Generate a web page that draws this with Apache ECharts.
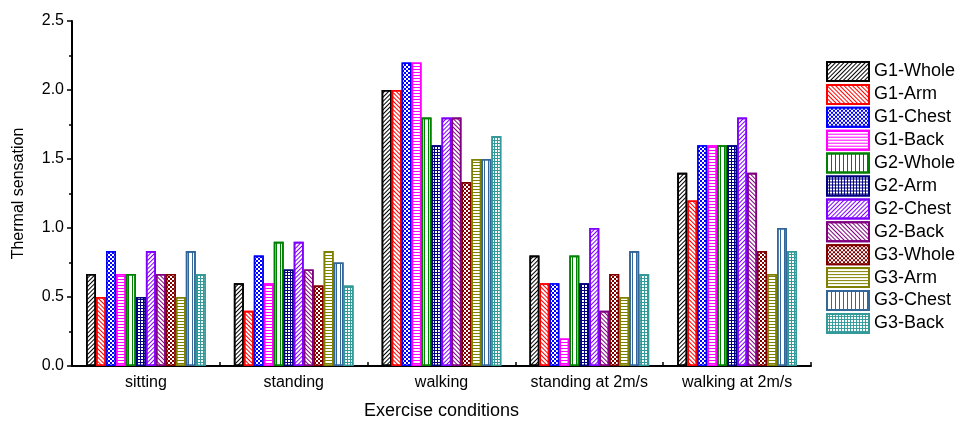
<!DOCTYPE html>
<html>
<head>
<meta charset="utf-8">
<script src="https://cdn.jsdelivr.net/npm/echarts@6/dist/echarts.min.js"></script>
<style>html,body{margin:0;padding:0;background:#fff}#c{width:959px;height:422px}</style>
</head>
<body>
<div id="c"></div>
<script>
const categories = ['sitting', 'standing', 'walking', 'standing at 2m/s', 'walking at 2m/s'];
const seriesNames = ['G1-Whole', 'G1-Arm', 'G1-Chest', 'G1-Back', 'G2-Whole', 'G2-Arm', 'G2-Chest', 'G2-Back', 'G3-Whole', 'G3-Arm', 'G3-Chest', 'G3-Back'];
const g1Whole = [0.667, 0.6, 2.0, 0.8, 1.4];
const g1Arm   = [0.5, 0.4, 2.0, 0.6, 1.2];
const g1Chest = [0.833, 0.8, 2.2, 0.6, 1.6];
const g1Back  = [0.667, 0.6, 2.2, 0.2, 1.6];
const g2Whole = [0.667, 0.9, 1.8, 0.8, 1.6];
const g2Arm   = [0.5, 0.7, 1.6, 0.6, 1.6];
const g2Chest = [0.833, 0.9, 1.8, 1.0, 1.8];
const g2Back  = [0.667, 0.7, 1.8, 0.4, 1.4];
const g3Whole = [0.667, 0.583, 1.333, 0.667, 0.833];
const g3Arm   = [0.5, 0.833, 1.5, 0.5, 0.667];
const g3Chest = [0.833, 0.75, 1.5, 0.833, 1.0];
const g3Back  = [0.667, 0.583, 1.667, 0.667, 0.833];
const yTicks = [0, 0.5, 1.0, 1.5, 2.0, 2.5];

const allData = [g1Whole, g1Arm, g1Chest, g1Back, g2Whole, g2Arm, g2Chest, g2Back, g3Whole, g3Arm, g3Chest, g3Back];
const colors = ['#000000', '#FF0000', '#0000FF', '#FF00FF', '#008000', '#000080', '#8000FF', '#800080', '#800000', '#808000', '#336699', '#339999'];
const patterns = ['diagR', 'diagL', 'checker', 'horiz', 'vert', 'grid', 'diagR', 'diagL', 'checker', 'horiz', 'vert', 'grid'];

function styleFor(p, c) {
  const base = {borderColor: c, borderWidth: 1.6};
  if (p === 'diagR' || p === 'diagL') {
    return Object.assign(base, {color: '#fff', decal: {symbol: 'rect', color: c, dashArrayX: [1, 0], dashArrayY: [1, 2], rotation: p === 'diagR' ? -Math.PI / 4 : Math.PI / 4}});
  }
  if (p === 'horiz') {
    return Object.assign(base, {color: '#fff', decal: {symbol: 'rect', color: c, dashArrayX: [1, 0], dashArrayY: [1, 2]}});
  }
  if (p === 'vert') {
    return Object.assign(base, {color: '#fff', decal: {symbol: 'rect', color: c, dashArrayX: [1, 3], dashArrayY: [1, 0]}});
  }
  if (p === 'grid') {
    return Object.assign(base, {color: c, decal: {symbol: 'rect', color: '#fff', dashArrayX: [2, 1], dashArrayY: [2, 1]}});
  }
  return Object.assign(base, {color: c, decal: {symbol: 'rect', color: '#fff', dashArrayX: [[2, 2], [0, 2, 2, 0]], dashArrayY: [2, 0]}});
}

const font = 'Liberation Sans, Arial, sans-serif';
const series = seriesNames.map((n, i) => ({
  name: n,
  type: 'bar',
  xAxisIndex: 0,
  data: allData[i],
  barGap: '0%',
  barCategoryGap: '19%',
  itemStyle: styleFor(patterns[i], colors[i]),
  emphasis: {disabled: true}
}));

const chart = echarts.init(document.getElementById('c'), null, {renderer: 'canvas'});
chart.setOption({
  animation: false,
  aria: {enabled: false},
  grid: {left: 72, right: 148, top: 21, bottom: 56, outerBoundsMode: 'none', containLabel: false},
  legend: {
    orient: 'vertical', left: 826, top: 61, padding: 0,
    itemWidth: 42, itemHeight: 19, itemGap: 1.9,
    icon: 'rect',
    textStyle: {fontFamily: font, fontSize: 18, lineHeight: 20, color: '#000'},
    data: seriesNames
  },
  xAxis: [{
    type: 'category', data: categories, position: 'bottom',
    axisLine: {lineStyle: {color: '#000', width: 2}},
    axisTick: {show: true, inside: true, length: 4, lineStyle: {color: '#000', width: 1.5}},
    axisLabel: {fontFamily: font, fontSize: 16, color: '#000', margin: 9, interval: 0},
    name: 'Exercise conditions', nameLocation: 'middle', nameGap: 36,
    nameTextStyle: {fontFamily: font, fontSize: 18, color: '#000'},
    splitLine: {show: false}
  }, {
    type: 'category', data: categories, position: 'bottom', gridIndex: 0,
    axisLine: {show: false},
    axisTick: {show: true, inside: true, alignWithLabel: true, interval: 0, length: 6, lineStyle: {color: '#000', width: 1.5}},
    axisLabel: {show: false},
    splitLine: {show: false}
  }],
  yAxis: {
    type: 'value', min: yTicks[0], max: yTicks[yTicks.length - 1], interval: 0.5,
    axisLine: {show: true, lineStyle: {color: '#000', width: 2}},
    axisTick: {show: true, inside: false, length: 5, lineStyle: {color: '#000', width: 1.5}},
    minorTick: {show: true, splitNumber: 2, length: 3, lineStyle: {color: '#000', width: 1.5}},
    axisLabel: {fontFamily: font, fontSize: 16, color: '#000', margin: 8, formatter: v => v.toFixed(1)},
    splitLine: {show: false},
    name: 'Thermal sensation', nameLocation: 'middle', nameGap: 45,
    nameTextStyle: {fontFamily: font, fontSize: 16, color: '#000'}
  },
  series: series
});
</script>
</body>
</html>
